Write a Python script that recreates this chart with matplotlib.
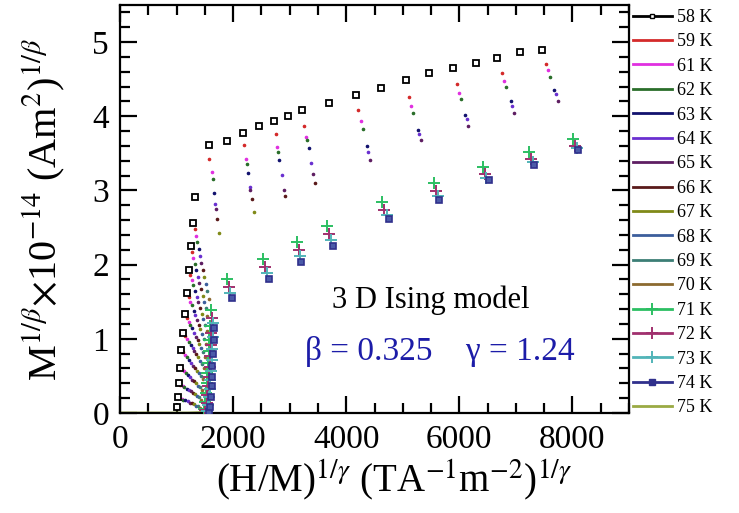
import numpy as np
import matplotlib
matplotlib.use("Agg")
import matplotlib.pyplot as plt
from matplotlib.lines import Line2D
from matplotlib.ticker import MultipleLocator

plt.rcParams['font.family'] = ['Liberation Serif', 'DejaVu Serif']
plt.rcParams['mathtext.fontset'] = 'stix'

# ---------------- data ----------------
temps = ["58 K", "59 K", "61 K", "62 K", "63 K", "64 K", "65 K", "66 K", "67 K",
         "68 K", "69 K", "70 K", "71 K", "72 K", "73 K", "74 K", "75 K"]
colors = ["#000000", "#d42a2a", "#e030e0", "#2a6e2a", "#12126e", "#6a30d0",
          "#5e1e62", "#5a1a1a", "#808a18", "#3c5e9c", "#3c7e76", "#8c6a30",
          "#2cbf62", "#a0306e", "#52b4b8", "#30308c", "#9aaa44"]

# 58 K (open squares)
x58 = [1015, 1020, 1037, 1061, 1085, 1120, 1155, 1190, 1220, 1248, 1297, 1326,
       1579, 1886, 2169, 2452, 2723, 2976, 3211, 3695, 4167, 4615, 5051, 5468,
       5880, 6288, 6671, 7072, 7455]
y58 = [0.08, 0.22, 0.40, 0.61, 0.85, 1.08, 1.33, 1.62, 1.93, 2.25, 2.56, 2.91,
       3.61, 3.67, 3.78, 3.87, 3.94, 4.00, 4.08, 4.18, 4.29, 4.38, 4.49, 4.58,
       4.65, 4.72, 4.78, 4.86, 4.89]

# intermediate temperatures (tiny dots)
x59 = [1052, 1069, 1093, 1116, 1150, 1183, 1216, 1245, 1272, 1319,
       1579, 2198, 2752, 3253, 4213, 5103, 5953, 6748, 7526]
y59 = [0.21, 0.38, 0.59, 0.82, 1.04, 1.28, 1.57, 1.86, 2.17, 2.48,
       3.43, 3.61, 3.76, 3.87, 4.09, 4.26, 4.44, 4.58, 4.71]
x61 = [1089, 1106, 1129, 1152, 1184, 1215, 1246, 1274, 1299, 1344,
       1621, 2228, 2776, 3294, 4261, 5145, 6000, 6789, 7573]
y61 = [0.19, 0.36, 0.56, 0.78, 1.00, 1.23, 1.50, 1.79, 2.09, 2.38,
       3.25, 3.43, 3.59, 3.72, 3.94, 4.14, 4.32, 4.48, 4.62]
x62 = [1121, 1139, 1161, 1183, 1214, 1243, 1273, 1299, 1323, 1366,
       1639, 2245, 2788, 3306, 4291, 5186, 6029, 6819, 7598]
y62 = [0.18, 0.35, 0.54, 0.75, 0.96, 1.19, 1.45, 1.72, 2.01, 2.30,
       3.15, 3.35, 3.52, 3.68, 3.83, 4.05, 4.23, 4.40, 4.53]
x63 = [1158, 1176, 1197, 1219, 1248, 1275, 1303, 1328, 1351, 1391,
       1667, 2260, 2817, 3342, 4361, 5274, 6100, 6907, 7679]
y63 = [0.17, 0.33, 0.51, 0.72, 0.92, 1.14, 1.38, 1.65, 1.93, 2.21,
       2.97, 3.24, 3.41, 3.57, 3.60, 3.81, 4.02, 4.20, 4.35]
x64 = [1195, 1213, 1234, 1254, 1282, 1307, 1333, 1357, 1378, 1416,
       1685, 2300, 2864, 3377, 4390, 5286, 6130, 6936, 7715]
y64 = [0.16, 0.31, 0.48, 0.68, 0.88, 1.08, 1.32, 1.57, 1.84, 2.12,
       2.82, 3.04, 3.21, 3.37, 3.52, 3.76, 3.96, 4.14, 4.30]
x65 = [1232, 1250, 1270, 1290, 1316, 1339, 1363, 1386, 1405, 1441,
       1697, 2300, 2900, 3418, 4420, 5321, 6159, 6966, 7745]
y65 = [0.14, 0.29, 0.45, 0.64, 0.83, 1.03, 1.26, 1.49, 1.75, 2.02,
       2.75, 3.00, 3.01, 3.22, 3.41, 3.68, 3.87, 4.05, 4.20]
x66 = [1268, 1287, 1306, 1325, 1350, 1371, 1393, 1414, 1433, 1465,
       1720, 2334, 2917, 3448]
y66 = [0.13, 0.27, 0.43, 0.61, 0.79, 0.98, 1.19, 1.42, 1.67, 1.93,
       2.62, 2.88, 2.92, 3.10]
x67 = [1305, 1324, 1342, 1361, 1384, 1403, 1423, 1443, 1460, 1490, 1755, 2375]
y67 = [0.12, 0.25, 0.40, 0.57, 0.75, 0.93, 1.13, 1.34, 1.58, 1.84, 2.42, 2.71]
x68 = [1342, 1361, 1379, 1397, 1418, 1435, 1453, 1472, 1487, 1515]
y68 = [0.10, 0.23, 0.37, 0.54, 0.70, 0.88, 1.07, 1.27, 1.49, 1.74]
x69 = [1379, 1398, 1415, 1432, 1452, 1467, 1483, 1501, 1515, 1540]
y69 = [0.09, 0.21, 0.35, 0.50, 0.66, 0.82, 1.00, 1.19, 1.41, 1.65]
x70 = [1420, 1440, 1456, 1472, 1490, 1503, 1516, 1533, 1546, 1568]
y70 = [0.07, 0.18, 0.31, 0.46, 0.61, 0.76, 0.93, 1.10, 1.31, 1.54]

# 71-74 K
x71 = [1480, 1500, 1515, 1530, 1545, 1555, 1565, 1580, 1590, 1609,
       1886, 2528, 3124, 3654, 4638, 5558, 6410, 7236, 8016]
y71 = [0.05, 0.15, 0.27, 0.40, 0.54, 0.68, 0.83, 0.98, 1.17, 1.39,
       1.81, 2.08, 2.31, 2.52, 2.84, 3.10, 3.32, 3.52, 3.69]
x72 = [1510, 1530, 1545, 1560, 1575, 1585, 1595, 1605, 1615, 1625,
       1920, 2570, 3160, 3690, 4673, 5590, 6450, 7270, 8050]
y72 = [0.04, 0.13, 0.24, 0.36, 0.49, 0.62, 0.77, 0.92, 1.08, 1.28,
       1.70, 1.97, 2.20, 2.41, 2.73, 2.99, 3.22, 3.42, 3.60]
x73 = [1540, 1560, 1575, 1590, 1600, 1610, 1620, 1630, 1640, 1650,
       1950, 2600, 3180, 3725, 4715, 5620, 6480, 7295, 8075]
y73 = [0.03, 0.11, 0.21, 0.32, 0.44, 0.57, 0.71, 0.86, 1.02, 1.21,
       1.62, 1.89, 2.11, 2.33, 2.67, 2.93, 3.17, 3.38, 3.57]
x74 = [1575, 1591, 1609, 1621, 1627, 1632, 1650, 1656, 1667,
       1987, 2640, 3200, 3760, 4756, 5647, 6516, 7320, 8098]
y74 = [0.02, 0.085, 0.22, 0.37, 0.49, 0.64, 0.80, 0.99, 1.15,
       1.55, 1.80, 2.03, 2.25, 2.62, 2.87, 3.14, 3.34, 3.54]
# 75 K (above Tc, ~0)
x75 = [0, 1200, 1400, 1500, 1560]
y75 = [0.0, 0.0, 0.005, 0.01, 0.02]

xs = [x58, x59, x61, x62, x63, x64, x65, x66, x67, x68, x69, x70, x71, x72, x73, x74, x75]
ys = [y58, y59, y61, y62, y63, y64, y65, y66, y67, y68, y69, y70, y71, y72, y73, y74, y75]

# ---------------- plot ----------------
W, H = 739, 513
fig = plt.figure(figsize=(W / 100, H / 100), dpi=100)
ax = fig.add_axes([120 / W, 1 - 413 / H, 509 / W, 408 / H])

handles = []
for i, (lab, c, x, y) in enumerate(zip(temps, colors, xs, ys)):
    if i == 0:
        ax.plot(x, y, ls='none', marker='s', ms=5, mfc='white', mec='black', mew=1.3, zorder=3)
        h = Line2D([], [], color=c, lw=2, marker='s', ms=3.5, mfc='white', mec='black', mew=1)
    elif 1 <= i <= 11:
        ax.plot(x, y, ls='none', marker='o', ms=1.6, color=c, zorder=2)
        h = Line2D([], [], color=c, lw=2)
    elif 12 <= i <= 14:
        ax.plot(x, y, ls='none', marker='+', ms=8, mew=1.4, color=c, zorder=4)
        h = Line2D([], [], color=c, lw=2, marker='+', ms=8, mew=1.4)
    elif i == 15:
        ax.plot(x, y, ls='none', marker='s', ms=4.5, mfc='#4a5aa8', mec=c, mew=1.2, zorder=4)
        h = Line2D([], [], color=c, lw=2, marker='s', ms=4, mfc=c, mec=c)
    else:
        ax.plot(x, y, ls='-', lw=2, color=c, zorder=2)
        h = Line2D([], [], color=c, lw=2)
    handles.append(h)

ax.set_xlim(0, 9000)
ax.set_ylim(0, 5.5)
ax.xaxis.set_major_locator(MultipleLocator(2000))
ax.xaxis.set_minor_locator(MultipleLocator(500))
ax.yaxis.set_major_locator(MultipleLocator(1))
ax.yaxis.set_minor_locator(MultipleLocator(0.2))
ax.tick_params(which='both', direction='in', top=True, right=True, width=1.6, labelsize=24)
ax.tick_params(which='major', length=12, pad=8)
ax.tick_params(which='minor', length=7)
for s in ax.spines.values():
    s.set_linewidth(1.6)

ax.set_xlabel(r"(H/M)$^{1/\gamma}$ (TA$^{-1}$m$^{-2}$)$^{1/\gamma}$", fontsize=28)
ax.xaxis.set_label_coords(0.539, -0.11)
ax.set_ylabel(r"M$^{1/\beta}$$\times$10$^{-14}$ (Am$^{2}$)$^{1/\beta}$", fontsize=29)
ax.yaxis.set_label_coords(-0.105, 0.5)

ax.text(0.611, 0.277, "3 D Ising model", transform=ax.transAxes, fontsize=22,
        ha='center', va='center', color='black')
ax.text(0.629, 0.15, "\u03b2 = 0.325    \u03b3 = 1.24", transform=ax.transAxes, fontsize=24,
        ha='center', va='center', color='#1c1ca8')

fig.legend(handles, temps, loc='upper left', bbox_to_anchor=(633 / W, 1 - 9 / H),
           frameon=False, fontsize=13, handlelength=2.15, handletextpad=0.3,
           labelspacing=0.41, borderpad=0, borderaxespad=0)

fig.savefig("out.png", dpi=100)
